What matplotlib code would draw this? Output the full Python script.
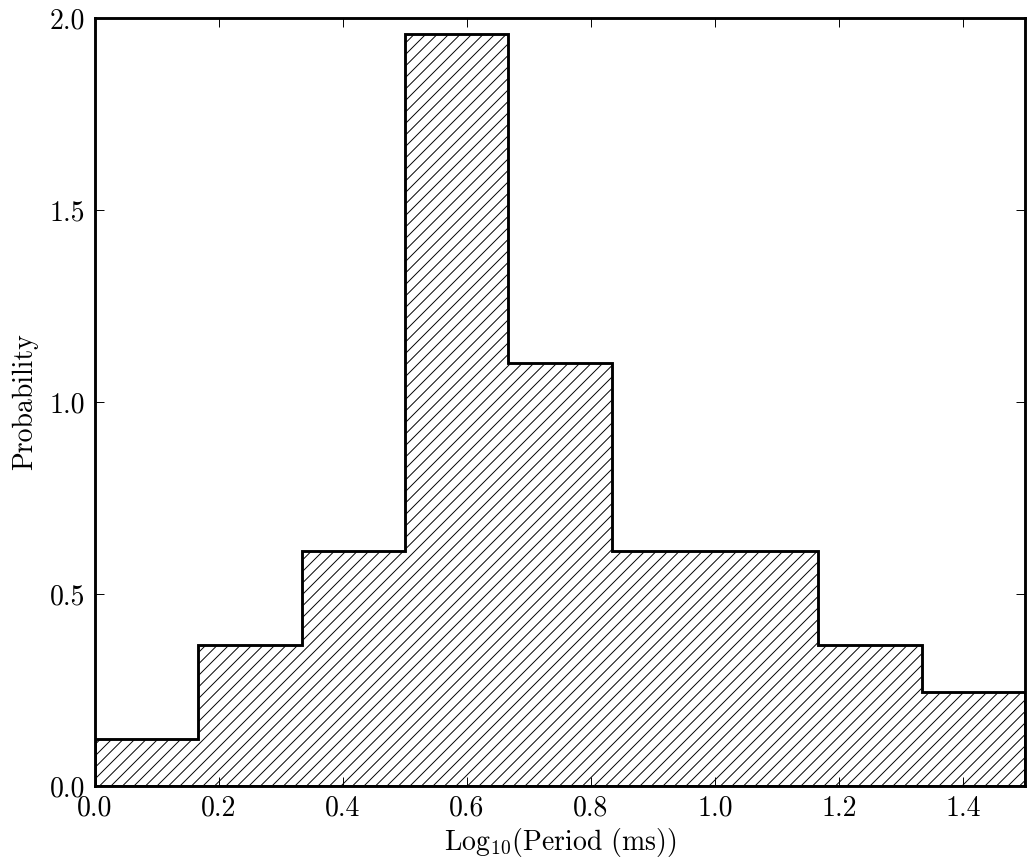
import numpy as np
import matplotlib
matplotlib.use('Agg')
import matplotlib.pyplot as plt

plt.rcParams.update({
    'font.family': 'serif',
    'font.serif': ['cmr10'],
    'mathtext.fontset': 'cm',
    'axes.unicode_minus': False,
    'axes.formatter.use_mathtext': True,
    'font.size': 14.5,
    'axes.linewidth': 1.5,
    'hatch.linewidth': 0.5,
    'xtick.direction': 'in',
    'ytick.direction': 'in',
    'xtick.top': True,
    'ytick.right': True,
    'xtick.major.size': 4.5,
    'ytick.major.size': 4.5,
    'xtick.major.width': 0.5,
    'ytick.major.width': 0.5,
    'xtick.major.pad': 5,
    'ytick.major.pad': 5,
})

# histogram of log10 period, 9 equal bins over 0..1.5
bin_edges = np.linspace(0.0, 1.5, 10)
counts = [1, 3, 5, 16, 9, 5, 5, 3, 2]

x_ticks = [0.0, 0.2, 0.4, 0.6, 0.8, 1.0, 1.2, 1.4]
y_ticks = [0.0, 0.5, 1.0, 1.5, 2.0]

fig = plt.figure(figsize=(1035 / 138, 866 / 138), dpi=138)
ax = fig.add_axes([95 / 1035, 1 - 786 / 866, 930 / 1035, 768 / 866])

ax.hist(bin_edges[:-1], bins=bin_edges, weights=counts, density=True,
        histtype='stepfilled', facecolor='white', edgecolor='black',
        hatch='////', linewidth=1.5)

ax.set_xlim(0.0, 1.5)
ax.set_ylim(0.0, 2.0)
ax.set_xticks(x_ticks)
ax.set_yticks(y_ticks)
ax.xaxis.set_major_formatter(matplotlib.ticker.FormatStrFormatter('%.1f'))
ax.yaxis.set_major_formatter(matplotlib.ticker.FormatStrFormatter('%.1f'))
ax.set_xlabel(r'Log$_{10}$(Period (ms))', labelpad=2)
ax.set_ylabel('Probability', labelpad=6)

fig.savefig('out.png', dpi=138)
